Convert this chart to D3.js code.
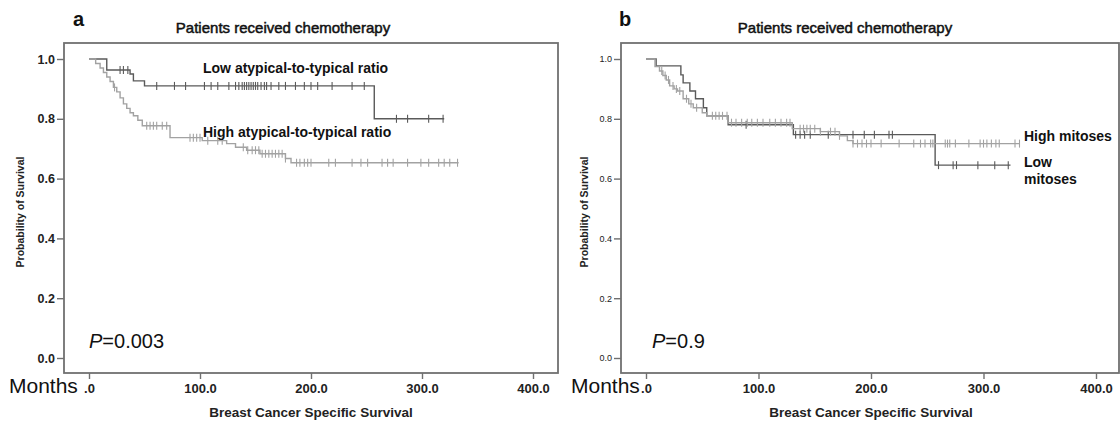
<!DOCTYPE html>
<html><head><meta charset="utf-8">
<script src="https://cdn.jsdelivr.net/npm/d3@7"></script>
<style>
html,body{margin:0;padding:0;background:#fff;}
svg{display:block;font-family:"Liberation Sans",Arial,sans-serif;}
</style></head>
<body>
<svg id="chart" width="1120" height="423"></svg>
<script>
// ---------- shared axis data ----------
const xTicks = [0, 100, 200, 300, 400];
const xTickLabels = [".0", "100.0", "200.0", "300.0", "400.0"];
const yTicks = [0, 0.2, 0.4, 0.6, 0.8, 1.0];
const yTickLabels = ["0.0", "0.2", "0.4", "0.6", "0.8", "1.0"];

// ---------- panel a: atypical-to-typical ratio ----------
const aLowTimes = [0, 16, 37, 40, 50, 257];
const aLowSurv  = [1.0, 0.963, 0.95, 0.927, 0.91, 0.80];
const aLowEnd = 320;
const aLowCensor = [28, 31, 35, 61, 77, 87, 104, 110, 116, 126, 132, 135, 138, 140, 142, 144, 146, 148, 150, 152, 155, 158, 160, 164, 171, 177, 186, 194, 200, 206, 219, 237, 248, 277, 287, 306, 319];

const aHighTimes = [0, 6, 10, 13, 16, 19, 22, 25, 28, 31, 34, 37, 40, 44, 48, 73, 102, 124, 132, 142, 154, 177, 182];
const aHighSurv  = [1.0, 0.985, 0.97, 0.955, 0.94, 0.925, 0.905, 0.89, 0.87, 0.85, 0.835, 0.82, 0.81, 0.795, 0.777, 0.737, 0.727, 0.717, 0.705, 0.695, 0.683, 0.667, 0.653];
const aHighEnd = 333;
const aHighCensor = [23, 52, 55, 58, 61, 66, 70, 91, 94, 97, 100, 107, 116, 120, 139, 143, 147, 150, 153, 156, 159, 162, 165, 168, 171, 174, 177, 187, 190, 194, 197, 200, 216, 222, 237, 245, 251, 264, 269, 274, 287, 299, 306, 315, 320, 325, 332];

// ---------- panel b: mitoses ----------
const bLowTimes = [0, 9, 31, 33, 39, 44, 51, 54, 73, 131, 257];
const bLowSurv  = [1.0, 0.977, 0.947, 0.92, 0.893, 0.867, 0.837, 0.81, 0.78, 0.747, 0.645];
const bLowEnd = 324;
const bLowCensor = [89, 133, 137, 141, 146, 162, 184, 194, 203, 216, 219, 260, 273, 276, 295, 310, 322];

const bHighTimes = [0, 8, 12, 15, 18, 21, 25, 28, 33, 38, 42, 50, 54, 73, 130, 155, 172, 179, 184];
const bHighSurv  = [1.0, 0.975, 0.96, 0.945, 0.93, 0.91, 0.9, 0.893, 0.867, 0.85, 0.837, 0.82, 0.81, 0.787, 0.767, 0.757, 0.743, 0.727, 0.717];
const bHighEnd = 332;
const bHighCensor = [14, 17, 20, 24, 27, 30, 36, 40, 45, 59, 62, 65, 68, 72, 76, 80, 85, 90, 94, 99, 104, 110, 115, 120, 125, 128, 137, 140, 143, 146, 150, 155, 164, 168, 172, 184, 188, 192, 196, 200, 209, 225, 238, 244, 248, 253, 255, 266, 268, 270, 275, 287, 297, 300, 303, 307, 311, 314, 328, 332];

const DARK = "#5a5a5a", LIGHT = "#a2a2a2", FRAME = "#707070";

const svg = d3.select("#chart");

function survAt(times, surv, t) {
  let v = surv[0];
  for (let i = 0; i < times.length; i++) if (times[i] <= t) v = surv[i];
  return v;
}

function drawPanel(cfg) {
  const g = svg.append("g");
  const x = d3.scaleLinear().domain([0, 400]).range(cfg.xRange);
  const y = d3.scaleLinear().domain([0, 1]).range([358, 59]);

  // frame
  g.append("rect").attr("x", cfg.frame[0]).attr("y", cfg.frame[1])
    .attr("width", cfg.frame[2] - cfg.frame[0]).attr("height", cfg.frame[3] - cfg.frame[1])
    .attr("fill", "none").attr("stroke", FRAME).attr("stroke-width", 1.8);

  // y axis
  const ya = g.append("g").attr("transform", `translate(${cfg.frame[0]},0)`)
    .call(d3.axisLeft(y).tickValues(yTicks).tickFormat((d, i) => yTickLabels[i]).tickSize(7).tickPadding(2));
  ya.select(".domain").remove();
  ya.selectAll(".tick line").attr("stroke", FRAME).attr("stroke-width", 1.4);
  ya.selectAll(".tick text").attr("fill", "#222")
    .style("font-size", cfg.yFont + "px").style("font-weight", cfg.yWeight);

  // x axis
  const xa = g.append("g").attr("transform", `translate(0,${cfg.frame[3]})`)
    .call(d3.axisBottom(x).tickValues(xTicks).tickFormat((d, i) => xTickLabels[i]).tickSize(6).tickPadding(5));
  xa.select(".domain").remove();
  xa.selectAll(".tick line").attr("stroke", FRAME).attr("stroke-width", 1.4);
  xa.selectAll(".tick text").attr("fill", "#222").style("font-size", "13px").style("font-weight", "bold");

  const line = d3.line().x(d => x(d[0])).y(d => y(d[1])).curve(d3.curveStepAfter);
  cfg.series.forEach(s => {
    const pts = s.times.map((t, i) => [t, s.surv[i]]);
    pts.push([s.end, s.surv[s.surv.length - 1]]);
    g.append("path").attr("d", line(pts)).attr("fill", "none")
      .attr("stroke", s.color).attr("stroke-width", 1.4);
    g.append("g").selectAll("line").data(s.censor).join("line")
      .attr("x1", d => x(d)).attr("x2", d => x(d))
      .attr("y1", d => y(survAt(s.times, s.surv, d)) - 4)
      .attr("y2", d => y(survAt(s.times, s.surv, d)) + 4)
      .attr("stroke", s.color).attr("stroke-width", 1.1);
  });

  // panel letter
  g.append("text").attr("x", cfg.letterX).attr("y", 26).text(cfg.letter)
    .style("font-size", "20px").style("font-weight", "bold").attr("fill", "#111");
  // title
  g.append("text").attr("x", cfg.titleX).attr("y", 33).attr("text-anchor", "middle")
    .text("Patients received chemotherapy").style("font-size", "15px").attr("fill", "#111")
    .attr("stroke", "#111").attr("stroke-width", 0.5);
  // x title
  g.append("text").attr("x", cfg.xTitleX).attr("y", 417).attr("text-anchor", "middle")
    .text("Breast Cancer Specific Survival").style("font-size", "13.5px").style("font-weight", "bold").attr("fill", "#222");
  // y title
  g.append("text").attr("transform", `translate(${cfg.yTitleX},212) rotate(-90)`).attr("text-anchor", "middle")
    .text("Probability of Survival").style("font-size", "10.5px").style("font-weight", "bold").attr("fill", "#222");
  // Months
  g.append("text").attr("x", cfg.monthsX).attr("y", 393).text("Months")
    .style("font-size", "21px").attr("fill", "#111");
  // P value
  const p = g.append("text").attr("x", cfg.pX).attr("y", 348).style("font-size", "20px").attr("fill", "#111");
  p.append("tspan").text("P").style("font-style", "italic");
  p.append("tspan").text(cfg.pText);
  // labels
  cfg.labels.forEach(l => {
    g.append("text").attr("x", l[0]).attr("y", l[1]).text(l[2])
      .style("font-size", "14px").style("font-weight", "bold").attr("fill", "#111");
  });
}

drawPanel({
  xRange: [89, 533], frame: [64, 43, 558, 373],
  yFont: 12.5, yWeight: "bold",
  letter: "a", letterX: 73, titleX: 283, xTitleX: 311, yTitleX: 24, monthsX: 9, pX: 89, pText: "=0.003",
  series: [
    {times: aLowTimes, surv: aLowSurv, end: aLowEnd, censor: aLowCensor, color: DARK},
    {times: aHighTimes, surv: aHighSurv, end: aHighEnd, censor: aHighCensor, color: LIGHT}
  ],
  labels: [[203, 73, "Low atypical-to-typical ratio"], [203, 137, "High atypical-to-typical ratio"]]
});

drawPanel({
  xRange: [646, 1096], frame: [621, 43, 1119, 373],
  yFont: 9, yWeight: "normal",
  letter: "b", letterX: 619, titleX: 845, xTitleX: 871, yTitleX: 588, monthsX: 571, pX: 652, pText: "=0.9",
  series: [
    {times: bLowTimes, surv: bLowSurv, end: bLowEnd, censor: bLowCensor, color: DARK},
    {times: bHighTimes, surv: bHighSurv, end: bHighEnd, censor: bHighCensor, color: LIGHT}
  ],
  labels: [[1024, 141, "High mitoses"], [1024, 167, "Low"], [1024, 184, "mitoses"]]
});
</script>
</body></html>
